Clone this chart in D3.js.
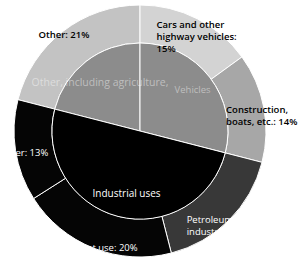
<!DOCTYPE html>
<html lang="en">
<head>
<meta charset="UTF-8">
<title>Sunburst</title>
<script src="https://cdn.jsdelivr.net/npm/d3@7/dist/d3.min.js"></script>
<style>
  body{margin:0;background:#fff}
  text{font-family:"Open Sans",sans-serif;font-size:9.5px}
</style>
</head>
<body>
<div class="chart"></div>
<script>
// data
let outerLabels=[["Other: 21%"],["Cars and other","highway vehicles:","15%"],["Construction,","boats, etc.: 14%"],["Petroleum","industry: 17%"],["Solvent use: 20%"],["Paper: 13%"]]
let outerValues=[21,15,14,17,20,13]
let outerColors=["#c3c3c3","#d3d3d3","#a7a7a7","#383838","#050505","#050505"]
let innerLabels=["Other, including agriculture,","Vehicles","Industrial uses"]
let innerValues=[21,29,50]
let innerColors=["#8c8c8c","#8c8c8c","#000"]

let width=303,height=259
let cx=140,cy=131
let rIn=88,rOut=126
let start=-2*Math.PI*outerValues[0]/d3.sum(outerValues)

let svg=d3.select('.chart').append('svg').attr('width',width).attr('height',height)
let g=svg.append('g').attr('transform','translate('+cx+','+cy+')')

let pie=d3.pie().sort(null).value(d=>d).startAngle(start).endAngle(start+2*Math.PI)
let outerArc=d3.arc().innerRadius(rIn).outerRadius(rOut)
let innerArc=d3.arc().innerRadius(0).outerRadius(rIn)

let outerData=pie(outerValues)
let innerData=pie(innerValues)

g.selectAll('.outer').data(outerData).enter().append('path').attr('class','outer')
    .attr('d',outerArc).attr('fill',(d,i)=>outerColors[i])
    .attr('stroke','#fff').attr('stroke-width',1)
g.selectAll('.inner').data(innerData).enter().append('path').attr('class','inner')
    .attr('d',innerArc).attr('fill',(d,i)=>innerColors[i])
    .attr('stroke','#fff').attr('stroke-width',1)

// outer labels: anchor from centroid, nudged
let nudge=[[-36,-8,'start'],[-32,-8,'start'],[-19,2,'start'],[-29,16,'start'],[37,20.5,'end'],[14,8,'end']]
let labelColor=['#000','#000','#000','#fff','#fff','#fff']
outerData.forEach((d,i)=>{
    let c=outerArc.centroid(d)
    let t=g.append('text').attr('x',c[0]+nudge[i][0]).attr('y',c[1]+nudge[i][1])
        .attr('text-anchor',nudge[i][2]).attr('fill',labelColor[i])
        .style('font-weight',i<3?600:400)
    outerLabels[i].forEach((line,j)=>{
        t.append('tspan').attr('x',c[0]+nudge[i][0]).attr('dy',j?12.3:0).text(line)
    })
})

// inner labels
let innerR=[62,40,62]
let innerNudge=[[-2,4],[21,-13],[2,6]]
let innerSize=[10.5,9.5,10]
innerData.forEach((d,i)=>{
    let a=(d.startAngle+d.endAngle)/2
    let x=Math.sin(a)*innerR[i]+innerNudge[i][0], y=-Math.cos(a)*innerR[i]+innerNudge[i][1]
    g.append('text').attr('x',x).attr('y',y).attr('text-anchor','middle')
        .style('font-size',innerSize[i]+'px')
        .attr('fill','#fff').attr('fill-opacity',i<2?0.45:1).text(innerLabels[i])
})
</script>
</body>
</html>
